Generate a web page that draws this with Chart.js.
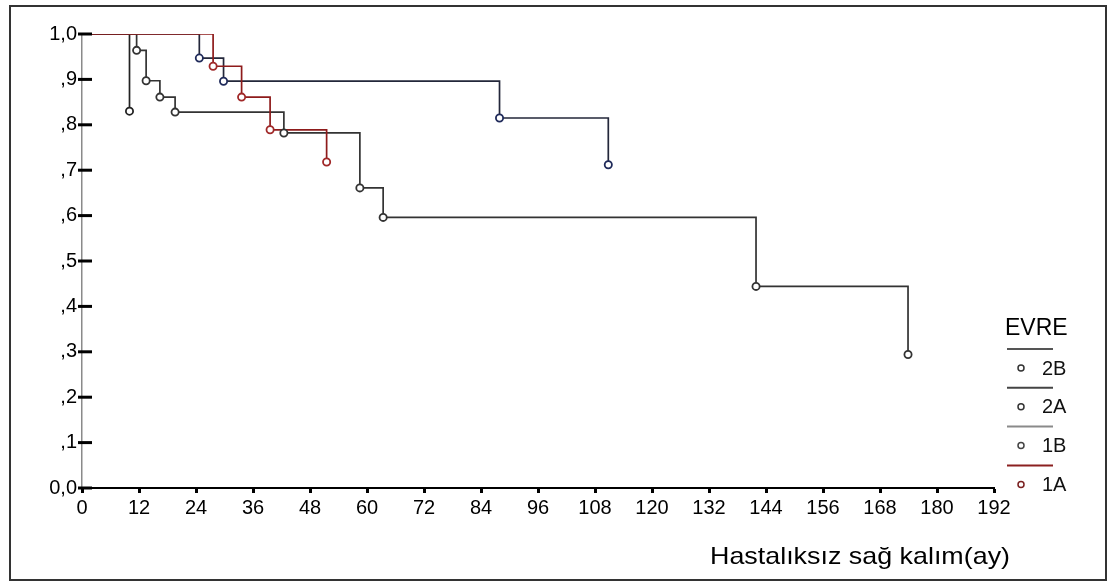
<html lang="tr">
<head>
<meta charset="UTF-8">
<title>Hastalıksız sağ kalım - EVRE</title>
<script src="https://cdn.jsdelivr.net/npm/chart.js"></script>
<style>
  body, html {
    margin: 0;
    background: #fff;
    font-family: Arial, "Liberation Sans", sans-serif;
  }
  .frame {
    position: absolute;
    left: 9px;
    top: 5px;
    width: 1098px;
    height: 576px;
    box-sizing: border-box;
    border: 2px solid #333;
  }
  #chart {
    position: absolute;
    left: 0;
    top: 0;
  }
</style>
</head>
<body>
<div class="frame"></div>
<canvas id="chart" width="1110" height="583"></canvas>

<script>
  // groups (EVRE) in legend order
  const groupLabels = ['2B', '2A', '1B', '1A'];

  // Kaplan-Meier steps (months, survival)
  const time2B = [0, 10];
  const surv2B = [1.0, 0.83];
  const time2A = [0, 24.7, 29.8, 87.9, 110.8];
  const surv2A = [1.0, 0.947, 0.896, 0.815, 0.712];
  const time1B = [0, 11.5, 13.5, 16.4, 19.6, 42.5, 58.5, 63.4, 141.9, 173.9];
  const surv1B = [1.0, 0.964, 0.897, 0.861, 0.828, 0.782, 0.661, 0.596, 0.444, 0.294];
  const time1A = [0, 27.6, 33.6, 39.6, 51.5];
  const surv1A = [1.0, 0.929, 0.861, 0.789, 0.718];

  // censored marks (circles)
  const cens2B_t = [10];
  const cens2B_s = [0.83];
  const cens2A_t = [24.7, 29.8, 87.9, 110.8];
  const cens2A_s = [0.947, 0.896, 0.815, 0.712];
  const cens1B_t = [11.5, 13.5, 16.4, 19.6, 42.5, 58.5, 63.4, 141.9, 173.9];
  const cens1B_s = [0.964, 0.897, 0.861, 0.828, 0.782, 0.661, 0.596, 0.444, 0.294];
  const cens1A_t = [27.6, 33.6, 39.6, 51.5];
  const cens1A_s = [0.929, 0.861, 0.789, 0.718];

  const yTickLabels = ['0,0', ',1', ',2', ',3', ',4', ',5', ',6', ',7', ',8', ',9', '1,0'];
  const xAxisTitle = 'Hastalıksız sağ kalım(ay)';
  const legendTitle = 'EVRE';

  const lineColors = ['#222222', '#23273a', '#333333', '#8e1b1b'];
  const markColors = ['#222222', '#1f2a5a', '#333333', '#a02828'];
  const legendLineColors = ['#555555', '#444444', '#8a8a8a', '#8b2020'];
  const legendMarkColors = ['#333333', '#333333', '#444444', '#7a2020'];

  const FONT = 'Arial, "Liberation Sans", sans-serif';

  function pts(ts, ss) {
    return ts.map(function(t, i) { return {x: t, y: ss[i]}; });
  }

  const steps = [[time2B, surv2B], [time2A, surv2A], [time1B, surv1B], [time1A, surv1A]];
  const cens = [[cens2B_t, cens2B_s], [cens2A_t, cens2A_s], [cens1B_t, cens1B_s], [cens1A_t, cens1A_s]];

  var datasets = [];
  for (var i = 0; i < groupLabels.length; i++) {
    datasets.push({
      label: groupLabels[i],
      data: pts(steps[i][0], steps[i][1]),
      showLine: true,
      stepped: true,
      borderColor: lineColors[i],
      borderWidth: 1.7,
      pointRadius: 0,
      fill: false,
      order: 10 - i
    });
    datasets.push({
      label: groupLabels[i] + ' censor',
      data: pts(cens[i][0], cens[i][1]),
      showLine: false,
      pointStyle: 'circle',
      pointRadius: 3.6,
      pointBorderWidth: 1.8,
      pointBackgroundColor: '#ffffff',
      pointBorderColor: markColors[i],
      borderColor: markColors[i],
      order: 5 - i
    });
  }

  // y ticks cross the axis, mostly to the inside
  const yTickPlugin = {
    id: 'yTicks',
    afterDatasetsDraw: function(chart) {
      var ctx = chart.ctx;
      var y = chart.scales.y;
      var left = chart.chartArea.left;
      ctx.save();
      ctx.strokeStyle = '#000';
      ctx.lineWidth = 3;
      for (var k = 0; k < yTickLabels.length; k++) {
        var py = y.getPixelForValue(k / 10);
        ctx.beginPath();
        ctx.moveTo(left - 4, py);
        ctx.lineTo(left + 10, py);
        ctx.stroke();
      }
      ctx.restore();
    }
  };

  // axis title + SPSS style legend
  const extrasPlugin = {
    id: 'extras',
    afterDraw: function(chart) {
      var ctx = chart.ctx;
      ctx.save();
      ctx.fillStyle = '#000';
      ctx.textBaseline = 'middle';

      // x axis title, right end at ~1010
      ctx.font = '24px ' + FONT;
      var w = ctx.measureText(xAxisTitle).width;
      var sx = 300 / w;
      ctx.save();
      ctx.translate(710, 557);
      ctx.scale(sx, 1);
      ctx.textAlign = 'left';
      ctx.fillText(xAxisTitle, 0, 0);
      ctx.restore();

      // legend
      ctx.textAlign = 'left';
      ctx.font = '23px ' + FONT;
      ctx.fillText(legendTitle, 1005, 329);
      ctx.font = '20px ' + FONT;
      for (var i = 0; i < groupLabels.length; i++) {
        var ly = 349 + i * 38.8;
        ctx.strokeStyle = legendLineColors[i];
        ctx.lineWidth = 2;
        ctx.beginPath();
        ctx.moveTo(1007, ly);
        ctx.lineTo(1053, ly);
        ctx.stroke();
        var ry = ly + 19;
        ctx.strokeStyle = legendMarkColors[i];
        ctx.lineWidth = 1.5;
        ctx.beginPath();
        ctx.arc(1021, ry, 3, 0, Math.PI * 2);
        ctx.stroke();
        ctx.fillStyle = '#111';
        ctx.fillText(groupLabels[i], 1042, ry + 1);
      }
      ctx.restore();
    }
  };

  new Chart(document.getElementById('chart').getContext('2d'), {
    type: 'scatter',
    data: { datasets: datasets },
    options: {
      responsive: false,
      animation: false,
      devicePixelRatio: 1,
      layout: { padding: { left: 0, top: 34, right: 116, bottom: 0 } },
      plugins: {
        legend: { display: false },
        tooltip: { enabled: false }
      },
      scales: {
        x: {
          type: 'linear',
          min: 0,
          max: 192,
          afterFit: function(scale) { scale.height = 95; },
          ticks: {
            stepSize: 12,
            color: '#000',
            padding: 3,
            font: { family: FONT, size: 20 },
            maxRotation: 0,
            autoSkip: false
          },
          grid: {
            drawOnChartArea: false,
            drawTicks: true,
            tickLength: 5,
            tickWidth: 3,
            tickColor: '#000'
          },
          border: { display: true, color: '#000', width: 2 }
        },
        y: {
          type: 'linear',
          min: 0,
          max: 1,
          afterFit: function(scale) { scale.width = 82; },
          ticks: {
            stepSize: 0.1,
            color: '#000',
            padding: 5,
            font: { family: FONT, size: 20 },
            callback: function(v, idx) { return yTickLabels[idx]; }
          },
          grid: {
            drawOnChartArea: false,
            drawTicks: false
          },
          border: { display: true, color: '#8a8a8a', width: 1.5 }
        }
      }
    },
    plugins: [yTickPlugin, extrasPlugin]
  });
</script>
</body>
</html>
